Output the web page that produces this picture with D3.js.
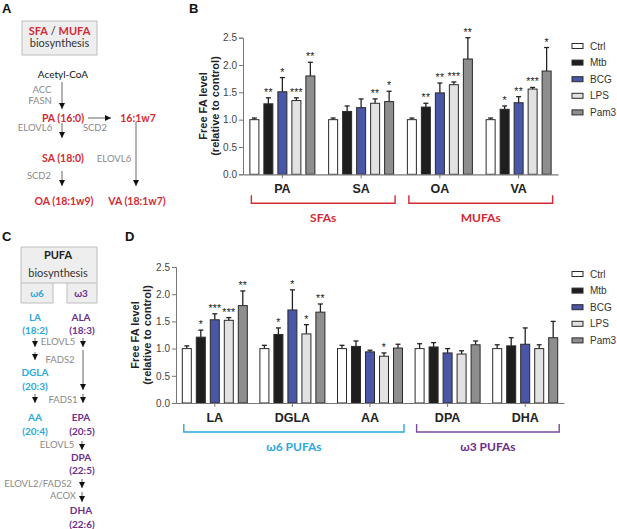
<!DOCTYPE html>
<html>
<head>
<meta charset="utf-8">
<script src="https://cdn.jsdelivr.net/npm/d3@7"></script>
<style>
  body { margin: 0; background: #fff; }
  text { font-family: "Liberation Sans", Arial, sans-serif; }
  .dg { font-family: Lato, "Open Sans", sans-serif; }
</style>
</head>
<body>
<div id="fig"></div>
<script>
const width = 617;
const height = 529;

// treatment groups
const groups = ['Ctrl', 'Mtb', 'BCG', 'LPS', 'Pam3'];
const groupColors = ['#ffffff', '#1e1e1e', '#4a57a7', '#e2e2e2', '#8e8e8e'];

// panel B - SFA / MUFA
const catsB = ['PA', 'SA', 'OA', 'VA'];
const meanB = [
  [1.00, 1.29, 1.51, 1.35, 1.80],
  [1.00, 1.15, 1.22, 1.30, 1.33],
  [1.00, 1.23, 1.49, 1.64, 2.11],
  [1.00, 1.19, 1.31, 1.56, 1.89]
];
const errB = [
  [0.03, 0.11, 0.26, 0.05, 0.25],
  [0.03, 0.10, 0.16, 0.08, 0.19],
  [0.03, 0.07, 0.18, 0.05, 0.39],
  [0.03, 0.06, 0.11, 0.03, 0.43]
];
const starsB = [
  ['', '**', '*', '***', '**'],
  ['', '', '', '**', '*'],
  ['', '**', '**', '***', '**'],
  ['', '*', '**', '***', '*']
];

// panel D - PUFA
const catsD = ['LA', 'DGLA', 'AA', 'DPA', 'DHA'];
const meanD = [
  [1.00, 1.21, 1.53, 1.52, 1.79],
  [1.00, 1.26, 1.71, 1.27, 1.67],
  [1.00, 1.04, 0.94, 0.86, 1.01],
  [1.00, 1.03, 0.92, 0.90, 1.07],
  [1.00, 1.05, 1.08, 1.00, 1.20]
];
const errD = [
  [0.05, 0.13, 0.11, 0.05, 0.27],
  [0.06, 0.12, 0.37, 0.17, 0.15],
  [0.06, 0.10, 0.03, 0.06, 0.07],
  [0.09, 0.08, 0.08, 0.06, 0.07],
  [0.07, 0.15, 0.30, 0.07, 0.30]
];
const starsD = [
  ['', '*', '***', '***', '**'],
  ['', '*', '*', '*', '**'],
  ['', '', '', '*', ''],
  ['', '', '', '', ''],
  ['', '', '', '', '']
];

const yTicks = [0, 0.5, 1, 1.5, 2, 2.5];

const bracketsB = [
  { label: 'SFAs', from: 'PA', to: 'SA' },
  { label: 'MUFAs', from: 'OA', to: 'VA' }
];
const bracketsD = [
  { label: 'ω6 PUFAs', from: 'LA', to: 'AA' },
  { label: 'ω3 PUFAs', from: 'DPA', to: 'DHA' }
];

const red = '#d42a33';
const cyan = '#2ba8dc';
const purple = '#7a4a9d';
const purpleText = '#6c2f8c';
const gray = '#8a8a8a';

const svg = d3.select('#fig').append('svg')
  .attr('width', width)
  .attr('height', height);

svg.append('defs').append('marker')
  .attr('id', 'head')
  .attr('viewBox', '0 0 10 10')
  .attr('refX', 10).attr('refY', 5)
  .attr('markerWidth', 6).attr('markerHeight', 6)
  .attr('markerUnits', 'userSpaceOnUse')
  .attr('orient', 'auto')
  .append('path')
  .attr('d', 'M0,0L10,5L0,10Z')
  .attr('fill', '#111');

// panel letters
[['A', 2, 13], ['B', 189, 13], ['C', 2, 241], ['D', 125, 241]].forEach(l => {
  svg.append('text').attr('x', l[1]).attr('y', l[2])
    .attr('font-size', 13).attr('font-weight', 'bold').attr('fill', '#111')
    .text(l[0]);
});

function drawBars(o) {
  const x = d3.scaleBand().domain(o.cats).range(o.xRange).padding(0);
  const inner = d3.scaleBand().domain(groups).range([-32.5, 32.5]).paddingInner(0.357);
  const y = d3.scaleLinear().domain([0, 2.5]).range(o.yRange);
  const g = svg.append('g');
  const base = o.yRange[0];

  // y axis
  const ya = g.append('g')
    .attr('transform', `translate(${o.xRange[0]},0)`)
    .call(d3.axisLeft(y).tickValues(yTicks).tickFormat(d3.format('.1f')).tickSize(4).tickPadding(2));
  ya.select('.domain').attr('stroke', '#777');
  ya.selectAll('.tick line').attr('stroke', '#777');
  ya.selectAll('.tick text').attr('font-size', 10).attr('fill', '#444')
    .attr('font-family', '"Liberation Sans", Arial, sans-serif');

  // bars
  o.cats.forEach((c, ci) => {
    const cg = g.append('g').attr('transform', `translate(${x(c) + x.bandwidth() / 2},0)`);
    groups.forEach((gr, gi) => {
      const m = o.means[ci][gi];
      const e = o.errs[ci][gi];
      const bx = inner(gr);
      const cx = bx + inner.bandwidth() / 2;
      cg.append('line')
        .attr('x1', cx).attr('x2', cx)
        .attr('y1', y(m)).attr('y2', y(m + e))
        .attr('stroke', '#222').attr('stroke-width', 1.3);
      cg.append('line')
        .attr('x1', cx - 2.5).attr('x2', cx + 2.5)
        .attr('y1', y(m + e)).attr('y2', y(m + e))
        .attr('stroke', '#222').attr('stroke-width', 1.3);
      cg.append('rect')
        .attr('x', bx).attr('y', y(m))
        .attr('width', inner.bandwidth()).attr('height', base - y(m))
        .attr('fill', groupColors[gi])
        .attr('stroke', '#2a2a2a').attr('stroke-width', 1);
      if (o.stars[ci][gi]) {
        cg.append('text')
          .attr('x', cx).attr('y', y(m + e) - 2)
          .attr('text-anchor', 'middle')
          .attr('font-size', 10.5).attr('fill', '#222')
          .attr('letter-spacing', 0.2)
          .text(o.stars[ci][gi]);
      }
    });
  });

  // x axis
  const xa = g.append('g')
    .attr('transform', `translate(0,${base})`)
    .call(d3.axisBottom(x).tickSize(4).tickSizeOuter(0).tickPadding(4));
  xa.select('.domain').attr('stroke', '#777').attr('stroke-width', 1.2);
  xa.selectAll('.tick line').attr('stroke', '#777');
  xa.selectAll('.tick text').attr('font-size', 12.5).attr('font-weight', 'bold').attr('fill', '#222')
    .attr('font-family', '"Liberation Sans", Arial, sans-serif')
    .attr('dy', '0.85em');

  // y label
  const yMid = (o.yRange[0] + o.yRange[1]) / 2;
  [['Free FA level', 0], ['(relative to control)', 12]].forEach(t => {
    g.append('text')
      .attr('transform', `translate(${o.labelX + t[1]},${yMid}) rotate(-90)`)
      .attr('text-anchor', 'middle')
      .attr('font-size', 11).attr('font-weight', 'bold').attr('fill', '#222')
      .text(t[0]);
  });

  // group brackets
  o.brackets.forEach((b, bi) => {
    const x0 = x(b.from) + x.bandwidth() / 2 - 31;
    const x1 = x(b.to) + x.bandwidth() / 2 + 34;
    const col = o.bracketColors[bi];
    g.append('path')
      .attr('d', `M${x0},${base + 21}V${base + 29}H${x1}V${base + 21}`)
      .attr('fill', 'none').attr('stroke', col).attr('stroke-width', 1.4);
    g.append('text')
      .attr('class', 'dg')
      .attr('x', (x0 + x1) / 2).attr('y', base + 48)
      .attr('text-anchor', 'middle')
      .attr('font-size', 12).attr('font-weight', 'bold')
      .attr('fill', o.bracketText[bi])
      .text(b.label);
  });

  // legend
  groups.forEach((gr, gi) => {
    const ly = o.legendY + gi * 16.6;
    g.append('rect')
      .attr('x', 572).attr('y', ly - 2.5)
      .attr('width', 11).attr('height', 5)
      .attr('fill', groupColors[gi]).attr('stroke', '#2a2a2a');
    g.append('text')
      .attr('x', 590).attr('y', ly + 3.6)
      .attr('font-size', 10).attr('fill', '#333')
      .text(gr);
  });
}

drawBars({
  cats: catsB, means: meanB, errs: errB, stars: starsB,
  xRange: [243, 558], yRange: [174.3, 37.7],
  brackets: bracketsB, bracketColors: [red, red], bracketText: [red, red],
  labelX: 207, legendY: 46
});

drawBars({
  cats: catsD, means: meanD, errs: errD, stars: starsD,
  xRange: [176, 564], yRange: [403, 267],
  brackets: bracketsD, bracketColors: [cyan, purple], bracketText: [cyan, purpleText],
  labelX: 139, legendY: 274
});

// ---- pathway diagrams ----
function label(t, x, y, opts) {
  const el = svg.append('text').attr('class', 'dg')
    .attr('x', x).attr('y', y).attr('text-anchor', 'middle')
    .attr('font-size', opts.size || 10)
    .attr('font-weight', opts.bold ? 'bold' : 'normal')
    .attr('fill', opts.color || '#222')
    .text(t);
  return el;
}
function arrow(x1, y1, x2, y2) {
  svg.append('line')
    .attr('x1', x1).attr('y1', y1).attr('x2', x2).attr('y2', y2)
    .attr('stroke', '#666').attr('stroke-width', 1)
    .attr('marker-end', 'url(#head)');
}

// panel A
svg.append('rect').attr('x', 22).attr('y', 21).attr('width', 75).attr('height', 34)
  .attr('fill', '#eeeeee').attr('stroke', '#bdbdbd');
const t1 = svg.append('text').attr('class', 'dg').attr('x', 59.5).attr('y', 35)
  .attr('text-anchor', 'middle').attr('font-size', 11);
t1.append('tspan').attr('fill', red).attr('font-weight', 'bold').text('SFA');
t1.append('tspan').attr('fill', '#222').text(' / ');
t1.append('tspan').attr('fill', red).attr('font-weight', 'bold').text('MUFA');
label('biosynthesis', 59.5, 47, { size: 11, color: '#333' });

label('Acetyl-CoA', 63, 77.5, { size: 10, color: '#111' });
label('ACC', 42, 92.5, { size: 9.5, color: gray });
label('FASN', 40, 103.5, { size: 9.5, color: gray });
arrow(62, 82, 62, 109);
label('PA (16:0)', 63, 122, { bold: true, color: red, size: 10.5 });
arrow(88, 118, 111, 118);
label('16:1w7', 138, 122, { bold: true, color: red, size: 10.5 });
label('ELOVL6', 35, 130.5, { size: 9.5, color: gray });
label('SCD2', 95, 130.5, { size: 9.5, color: gray });
arrow(62, 123, 62, 138);
label('SA (18:0)', 63, 162, { bold: true, color: red, size: 10.5 });
label('ELOVL6', 114, 161.5, { size: 9.5, color: gray });
arrow(136, 122, 136, 186);
label('SCD2', 39, 178.5, { size: 9.5, color: gray });
arrow(62, 171, 62, 186);
label('OA (18:1w9)', 64, 205, { bold: true, color: red, size: 10.5 });
label('VA (18:1w7)', 137, 205, { bold: true, color: red, size: 10.5 });

// panel C
svg.append('path')
  .attr('d', 'M21,247H97V303H67V283H53V303H21Z')
  .attr('fill', '#eeeeee').attr('stroke', '#bdbdbd');
svg.append('path').attr('d', 'M21,283H53M67,283H97')
  .attr('fill', 'none').attr('stroke', '#bdbdbd');
label('PUFA', 58, 259, { bold: true, size: 11, color: '#222' });
label('biosynthesis', 58, 276.5, { size: 11, color: '#333' });
label('ω6', 37, 297, { bold: true, size: 10, color: cyan });
label('ω3', 81, 297, { bold: true, size: 10, color: purpleText });

label('LA', 35, 320.5, { bold: true, color: cyan });
label('(18:2)', 35, 334, { bold: true, color: cyan });
label('DGLA', 35, 376, { bold: true, color: cyan });
label('(20:3)', 35, 390, { bold: true, color: cyan });
label('AA', 35, 421, { bold: true, color: cyan });
label('(20:4)', 35, 435, { bold: true, color: cyan });

label('ALA', 81, 320.5, { bold: true, color: purpleText });
label('(18:3)', 82, 334, { bold: true, color: purpleText });
label('EPA', 81, 421, { bold: true, color: purpleText });
label('(20:5)', 82, 435, { bold: true, color: purpleText });
label('DPA', 81, 461, { bold: true, color: purpleText });
label('(22:5)', 82, 474, { bold: true, color: purpleText });
label('DHA', 81, 514, { bold: true, color: purpleText });
label('(22:6)', 82, 527.5, { bold: true, color: purpleText });

label('ELOVL5', 58, 344.5, { size: 9.5, color: gray });
label('FADS2', 60, 362.5, { size: 9.5, color: gray });
label('FADS1', 63, 402.5, { size: 9.5, color: gray });
label('ELOVL5', 57, 447.5, { size: 9.5, color: gray });
label('ELOVL2/FADS2', 38, 486.5, { size: 9.5, color: gray });
label('ACOX', 63, 498.5, { size: 9.5, color: gray });

arrow(35, 338, 35, 347);
arrow(35, 352, 35, 360);
arrow(35, 394, 35, 403);
arrow(83, 338, 83, 347);
arrow(83, 350, 83, 390);
arrow(83, 394, 83, 403);
arrow(82, 441, 82, 450);
arrow(82, 479, 82, 488);
arrow(82, 492, 82, 502);
</script>
</body>
</html>
